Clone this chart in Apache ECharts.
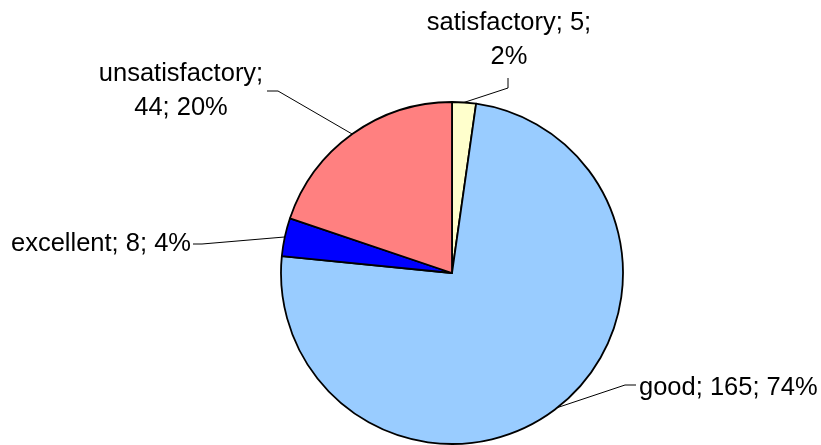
<!DOCTYPE html>
<html><head><meta charset="utf-8">
<script src="https://cdn.jsdelivr.net/npm/echarts@6/dist/echarts.min.js"></script>
<style>html,body{margin:0;padding:0;background:#fff}#c{width:821px;height:445px}</style>
</head><body><div id="c"></div>
<script>
const categories = ['satisfactory', 'good', 'excellent', 'unsatisfactory'];
const values = [5, 165, 8, 44];
const colors = ['#FFFFCC', '#99CCFF', '#0000FF', '#FF8080'];
const labelTemplates = ['{b}; {c};\n{d}%', '{b}; {c}; {d}%', '{b}; {c}; {d}%', '{b};\n{c}; {d}%'];
// label anchor positions and leader-line elbows (layout only)
const labelLayouts = [
  { x: 509, y: 40, align: 'center', elbow: [508, 88], end: [508, 78] },
  { x: 639, y: 388, align: 'left', elbow: [625, 385], end: [636, 385] },
  { x: 191, y: 244, align: 'right', elbow: [202, 244], end: [193, 244] },
  { x: 181, y: 91, align: 'center', elbow: [278, 91], end: [267, 91] }
];

const chart = echarts.init(document.getElementById('c'), null, { renderer: 'canvas' });
chart.setOption({
  backgroundColor: '#fff',
  animation: false,
  series: [{
    type: 'pie',
    center: [452, 273],
    radius: 171,
    startAngle: 90,
    clockwise: true,
    percentPrecision: 0,
    avoidLabelOverlap: false,
    itemStyle: { borderColor: '#000', borderWidth: 1.8 },
    emphasis: { disabled: true },
    label: {
      show: true,
      position: 'outside',
      fontFamily: 'Liberation Sans, Arial, sans-serif',
      fontSize: 25.5,
      lineHeight: 34,
      color: '#000'
    },
    labelLine: { show: true, length: 20, length2: 10, lineStyle: { color: '#000', width: 1 } },
    labelLayout: function (p) {
      const L = labelLayouts[p.dataIndex];
      const res = { x: L.x, y: L.y, align: L.align, verticalAlign: 'middle' };
      if (p.labelLinePoints && p.labelLinePoints[0]) {
        res.labelLinePoints = [p.labelLinePoints[0], L.elbow, L.end];
      }
      return res;
    },
    data: categories.map((c, i) => ({
      name: c,
      value: values[i],
      itemStyle: { color: colors[i] },
      label: { formatter: labelTemplates[i] }
    }))
  }]
});
</script>
</body></html>
